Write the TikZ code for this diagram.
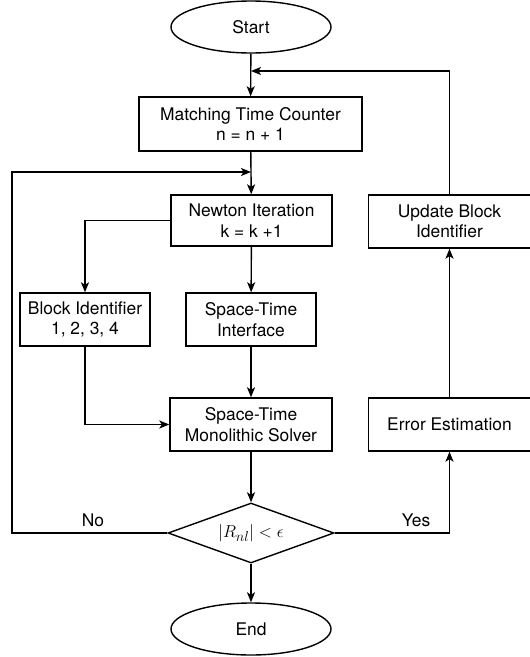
\documentclass[tikz,border=0pt]{standalone}
\usepackage{fontspec}
\setmainfont{TeX Gyre Heros}
\usetikzlibrary{shapes.geometric,arrows.meta}
\begin{document}
\begin{tikzpicture}[x=1pt,y=-1pt,
  every node/.style={font=\fontsize{17.4}{20.5}\selectfont, align=center, inner sep=0pt, line width=1.4pt},
  procbox/.style={draw, rectangle, minimum width=#1, minimum height=53pt},
  term/.style={draw, ellipse, minimum width=160pt, minimum height=52pt},
  decide/.style={draw, diamond, aspect=2.77, minimum width=166pt, minimum height=60pt, font=\fontsize{19}{22}\selectfont},
  flow/.style={line width=1.4pt, -{Stealth[length=10pt,width=8pt,inset=2.5pt]}}
]
\useasboundingbox (0,0) rectangle (530,657);
\node[term] (start) at (251,27) {Start};
\node[procbox=223pt, minimum height=54pt] (match) at (250.5,124) {Matching Time Counter\\n = n + 1};
\node[procbox=161pt, minimum height=51pt] (newton) at (251.5,220.5) {Newton Iteration\\k = k +1};
\node[procbox=162pt] (update) at (449.5,221.5) {Update Block\\Identifier};
\node[procbox=130pt] (blockid) at (85,319.5) {Block Identifier\\1, 2, 3, 4};
\node[procbox=130pt] (sti) at (251,319.5) {Space-Time\\Interface};
\node[procbox=162pt] (solver) at (251,424.5) {Space-Time\\Monolithic Solver};
\node[procbox=162pt] (error) at (449.5,424.5) {Error Estimation};
\node[decide] (dec) at (251,533) {$|R_{nl}| < \epsilon$};
\node[term] (end) at (251,629) {End};
\node (no) at (93,520) {No};
\node (yes) at (416,520) {Yes};
\coordinate (j1) at (251,71);
\coordinate (j2) at (251,172);
\coordinate (lc) at (12,172);

\draw[flow] (start) -- (match);
\draw[flow] (update.north) |- (j1);
\draw[flow] (match) -- (newton);
\draw[flow] (dec.west) -| (lc) -- (j2);
\draw[flow] (newton.west) -| (blockid.north);
\draw[flow] (newton) -- (sti);
\draw[flow] (sti) -- (solver);
\draw[flow] (blockid.south) |- (solver.west);
\draw[flow] (solver) -- (dec);
\draw[flow] (dec) -- (end);
\draw[flow] (dec.east) -| (error.south);
\draw[flow] (error) -- (update);
\end{tikzpicture}
\end{document}
